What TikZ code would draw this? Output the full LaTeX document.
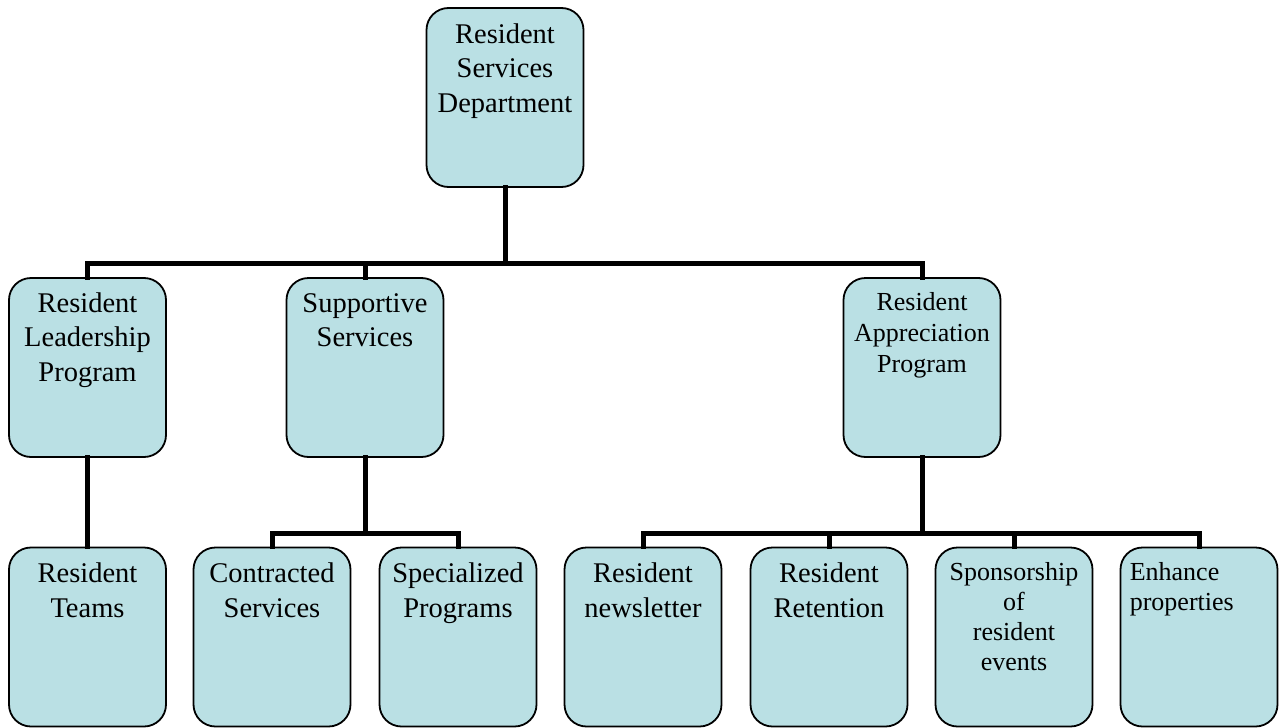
\documentclass[tikz,border=0pt]{standalone}
\usepackage{fontspec}
\setmainfont{Liberation Serif}
\definecolor{boxfill}{RGB}{186,224,228}
\tikzset{
  orgbox/.style={draw=black, line width=1.8pt, fill=boxfill, rounded corners=22pt,
    minimum width=157pt, minimum height=179pt, inner sep=0pt},
  txtbig/.style={align=center, inner sep=0pt, font=\fontsize{28.5}{34.5}\selectfont},
  txtsmall/.style={align=center, inner sep=0pt, font=\fontsize{26}{31}\selectfont},
  txtsmaller/.style={align=center, inner sep=0pt, font=\fontsize{26}{30}\selectfont},
  conn/.style={line width=5pt, line cap=rect}
}
\begin{document}
\begin{tikzpicture}[x=1pt,y=-1pt]
\useasboundingbox (0,0) rectangle (1285,728);
\coordinate (bus1) at (505,263);
% boxes
\node[orgbox] (rsd) at (505,97.5) {};
\node[orgbox] (rlp) at (87.5,367.5) {};
\node[orgbox] (ss) at (365,367.5) {};
\node[orgbox] (rap) at (922,367.5) {};
\node[orgbox] (rt) at (87.5,637) {};
\node[orgbox] (cs) at (272,637) {};
\node[orgbox] (sp) at (458,637) {};
\node[orgbox] (rn) at (643,637) {};
\node[orgbox] (rr) at (829,637) {};
\node[orgbox] (sre) at (1014,637) {};
\node[orgbox] (ep) at (1199,637) {};
% connectors
\draw[conn] (rsd.south) -- (bus1);
\draw[conn] (rlp.north) |- (bus1);
\draw[conn] (ss.north) |- (bus1);
\draw[conn] (rap.north) |- (bus1);
\draw[conn] (rlp.south) -- (rt.north);
\coordinate (bus2) at (365,533);
\draw[conn] (ss.south) -- (bus2);
\draw[conn] (cs.north) |- (bus2);
\draw[conn] (sp.north) |- (bus2);
\coordinate (bus3) at (922,533);
\draw[conn] (rap.south) -- (bus3);
\draw[conn] (rn.north) |- (bus3);
\draw[conn] (rr.north) |- (bus3);
\draw[conn] (sre.north) |- (bus3);
\draw[conn] (ep.north) |- (bus3);
% texts (base anchor = baseline of last line)
\node[txtbig, anchor=base] (trsd) at ([yshift=-105pt]rsd.north) {Resident\\Services\\Department};
\node[txtbig, anchor=base] (trlp) at ([yshift=-104pt]rlp.north) {Resident\\Leadership\\Program};
\node[txtbig, anchor=base] (tss) at ([yshift=-69.5pt]ss.north) {Supportive\\Services};
\node[txtsmall, anchor=base] (trap) at ([yshift=-95pt]rap.north) {Resident\\Appreciation\\Program};
\node[txtbig, anchor=base] (trt) at ([yshift=-70.5pt]rt.north) {Resident\\Teams};
\node[txtbig, anchor=base] (tcs) at ([yshift=-70.5pt]cs.north) {Contracted\\Services};
\node[txtbig, anchor=base] (tsp) at ([yshift=-70.5pt]sp.north) {Specialized\\Programs};
\node[txtbig, anchor=base] (trn) at ([yshift=-70.5pt]rn.north) {Resident\\newsletter};
\node[txtbig, anchor=base] (trr) at ([yshift=-70.5pt]rr.north) {Resident\\Retention};
\node[txtsmaller, anchor=base] (tsre) at ([yshift=-124pt]sre.north) {Sponsorship\\of\\resident\\events};
\node[txtsmaller, align=left, anchor=base west] (tep) at ([xshift=10pt,yshift=-64pt]ep.north west) {Enhance\\properties};
\end{tikzpicture}
\end{document}
